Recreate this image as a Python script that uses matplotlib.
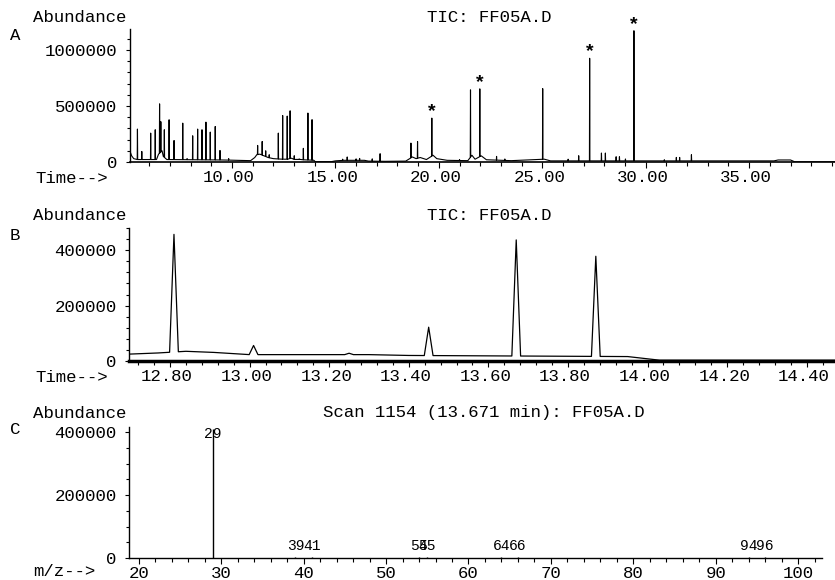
import matplotlib.pyplot as plt
import matplotlib.transforms as mtransforms
from matplotlib.ticker import MultipleLocator
import numpy as np

plt.rcParams.update({
    'font.family': 'monospace',
    'font.monospace': ['Liberation Mono', 'DejaVu Sans Mono'],
    'font.size': 12.5,
})

# TIC peaks (retention time in min, apex abundance)
peak_rt = [5.43, 5.64, 6.07, 6.29, 6.50, 6.56, 6.73, 6.96, 7.20, 7.62, 7.83, 8.10,
           8.34, 8.55, 8.74, 8.95, 9.19, 9.42, 9.84,
           11.24, 11.46, 11.63, 11.80, 12.24, 12.45, 12.67, 12.81, 13.01, 13.25,
           13.45, 13.67, 13.87,
           15.35, 15.57, 16.00, 16.17, 16.78, 17.16,
           18.65, 18.97, 19.66, 21.00, 21.53, 21.98, 22.79, 23.19, 25.02,
           26.25, 26.76, 27.29, 27.86, 28.05, 28.57, 28.73, 29.02, 29.43,
           30.90, 31.48, 31.64, 32.21]
peak_abund = [294000, 94000, 258000, 288000, 519000, 360000, 288000, 377000, 192000,
              347000, 30000, 234000, 294000, 288000, 356000, 267000, 317000, 103000, 30000,
              148000, 183000, 100000, 65000, 258000, 415000, 410000, 457000, 56000, 28000,
              122000, 437000, 378000,
              25000, 45000, 28000, 32000, 28000, 74000,
              169000, 183000, 392000, 22000, 644000, 653000, 50000, 27000, 655000,
              25000, 56000, 926000, 80000, 80000, 47000, 47000, 27000, 1172000,
              20000, 41000, 41000, 65000]

# baseline between the peaks
base_time = [5.07, 5.15, 5.25, 5.40, 6.35, 6.45, 6.62, 6.68, 6.85, 9.60, 10.90,
             11.10, 11.20, 11.35, 11.55, 11.75, 12.00, 12.40, 12.70, 12.77, 12.84,
             12.91, 13.00, 13.30, 13.40, 13.95, 14.03, 14.80, 15.00, 15.40, 16.40,
             16.60, 17.40, 18.40, 18.72, 18.90, 19.10, 19.40, 19.72, 19.90, 20.40,
             21.40, 21.60, 21.75, 22.05, 22.30, 23.50, 25.10, 25.40, 29.50, 36.20,
             36.40, 37.00, 37.20, 39.20]
base_abund = [95000, 55000, 30000, 22000, 22000, 70000, 100000, 50000, 22000, 18000, 12000,
              40000, 65000, 70000, 55000, 40000, 30000, 25000, 25000, 29000, 35000,
              31000, 23000, 23000, 20000, 16000, 3000, 3000, 10000, 15000, 15000,
              8000, 6000, 8000, 45000, 30000, 40000, 22000, 60000, 30000, 15000,
              12000, 60000, 25000, 55000, 20000, 12000, 25000, 10000, 10000, 10000,
              18000, 18000, 2000, 2000]

# mass spectrum, scan 1154
mz = [29, 39, 41, 54, 55, 64, 66, 94, 96]
mz_abund = [410000, 3000, 3000, 2500, 2500, 2000, 2000, 2000, 2000]

starred_rt = [19.66, 21.98, 27.29, 29.43]

# build the TIC trace from baseline + triangular peaks
rt = np.array(peak_rt)
ht = np.array(peak_abund)
bt = np.array(base_time)
bv = np.array(base_abund)
hw = 0.011
keep = np.min(np.abs(bt[:, None] - rt[None, :]), axis=1) > hw
feet = np.concatenate([rt - hw, rt + hw])
t_all = np.concatenate([bt[keep], feet, rt])
v_all = np.concatenate([bv[keep], np.interp(feet, bt, bv), ht])
order = np.argsort(t_all)
tic_t, tic_v = t_all[order], v_all[order]

W, H = 835, 580
fig = plt.figure(figsize=(W / 100, H / 100), dpi=100)


def px_axes(left, top, right, bottom):
    return fig.add_axes([left / W, 1 - bottom / H, (right - left) / W, (bottom - top) / H])


def ftext(x, y, s, **kw):
    fig.text(x / W, 1 - y / H, s, va='center', ha=kw.pop('ha', 'left'), **kw)


def style(ax, xlw=1.2):
    for s in ['top', 'right']:
        ax.spines[s].set_visible(False)
    ax.spines['left'].set_linewidth(1.0)
    ax.spines['bottom'].set_linewidth(xlw)
    ax.tick_params(axis='x', which='major', direction='out', length=4, width=0.8, pad=1.5)
    ax.tick_params(axis='x', which='minor', direction='out', length=3, width=0.8)
    ax.tick_params(axis='y', which='major', direction='out', length=3, width=0.8, pad=6)
    ax.tick_params(axis='y', which='minor', direction='out', length=2.5, width=0.8)


shift = mtransforms.ScaledTranslation(-3 / 100, 0, fig.dpi_scale_trans)

# ---- A: full TIC
axA = px_axes(130, 29, 835, 162)
axA.plot(tic_t, tic_v, color='black', lw=0.8)
axA.set_xlim(5.07, 39.15)
axA.set_ylim(0, 1187500)
axA.set_xticks([10, 15, 20, 25, 30, 35])
axA.set_xticklabels(['10.00', '15.00', '20.00', '25.00', '30.00', '35.00'])
axA.xaxis.set_minor_locator(MultipleLocator(1))
axA.set_yticks([0, 500000, 1000000])
axA.set_yticklabels(['0', '500000', '1000000'])
axA.yaxis.set_minor_locator(MultipleLocator(100000))
style(axA)
for lab in axA.get_xticklabels():
    lab.set_transform(lab.get_transform() + shift)
for t in starred_rt:
    axA.annotate('*', (t, np.interp(t, tic_t, tic_v)), xytext=(0, 1.5),
                 textcoords='offset points', ha='center', va='baseline',
                 fontsize=14, fontweight='bold', annotation_clip=False)

ftext(33, 17, 'Abundance')
ftext(10, 35, 'A')
ftext(427, 17, 'TIC: FF05A.D')
ftext(35, 178, 'Time-->')

# ---- B: expanded TIC
axB = px_axes(129, 228, 835, 361)
axB.plot(tic_t, tic_v, color='black', lw=0.9)
axB.set_xlim(12.697, 14.471)
axB.set_ylim(0, 480000)
b_ticks = [12.8, 13.0, 13.2, 13.4, 13.6, 13.8, 14.0, 14.2, 14.4]
axB.set_xticks(b_ticks)
axB.set_xticklabels([f'{v:.2f}' for v in b_ticks])
axB.xaxis.set_minor_locator(MultipleLocator(0.04))
axB.set_yticks([0, 200000, 400000])
axB.set_yticklabels(['0', '200000', '400000'])
axB.yaxis.set_minor_locator(MultipleLocator(40000))
style(axB, xlw=2.5)
for lab in axB.get_xticklabels():
    lab.set_transform(lab.get_transform() + shift)

ftext(33, 215, 'Abundance')
ftext(10, 236, 'B')
ftext(427, 215, 'TIC: FF05A.D')
ftext(35, 377, 'Time-->')

# ---- C: mass spectrum
axC = px_axes(129, 427, 822, 558)
axC.vlines(mz, 0, mz_abund, color='black', lw=1.0)
axC.set_xlim(18.8, 102.9)
axC.set_ylim(0, 416000)
axC.set_xticks(range(20, 101, 10))
axC.xaxis.set_minor_locator(MultipleLocator(2))
axC.set_yticks([0, 200000, 400000])
axC.set_yticklabels(['0', '200000', '400000'])
axC.yaxis.set_minor_locator(MultipleLocator(50000))
style(axC, xlw=1.0)
top = axC.get_ylim()[1]
for m, v in zip(mz, mz_abund):
    if v > 0.9 * top:
        axC.annotate(str(m), (m, top), xytext=(0, 0), textcoords='offset points',
                     ha='center', va='top', fontsize=10.5)
    else:
        axC.annotate(str(m), (m, v), xytext=(0, 3), textcoords='offset points',
                     ha='center', va='bottom', fontsize=10.5)

ftext(33, 413, 'Abundance')
ftext(10, 430, 'C')
ftext(323, 413, 'Scan 1154 (13.671 min): FF05A.D')
ftext(33, 572, 'm/z-->')

fig.savefig('out.png', dpi=100)
